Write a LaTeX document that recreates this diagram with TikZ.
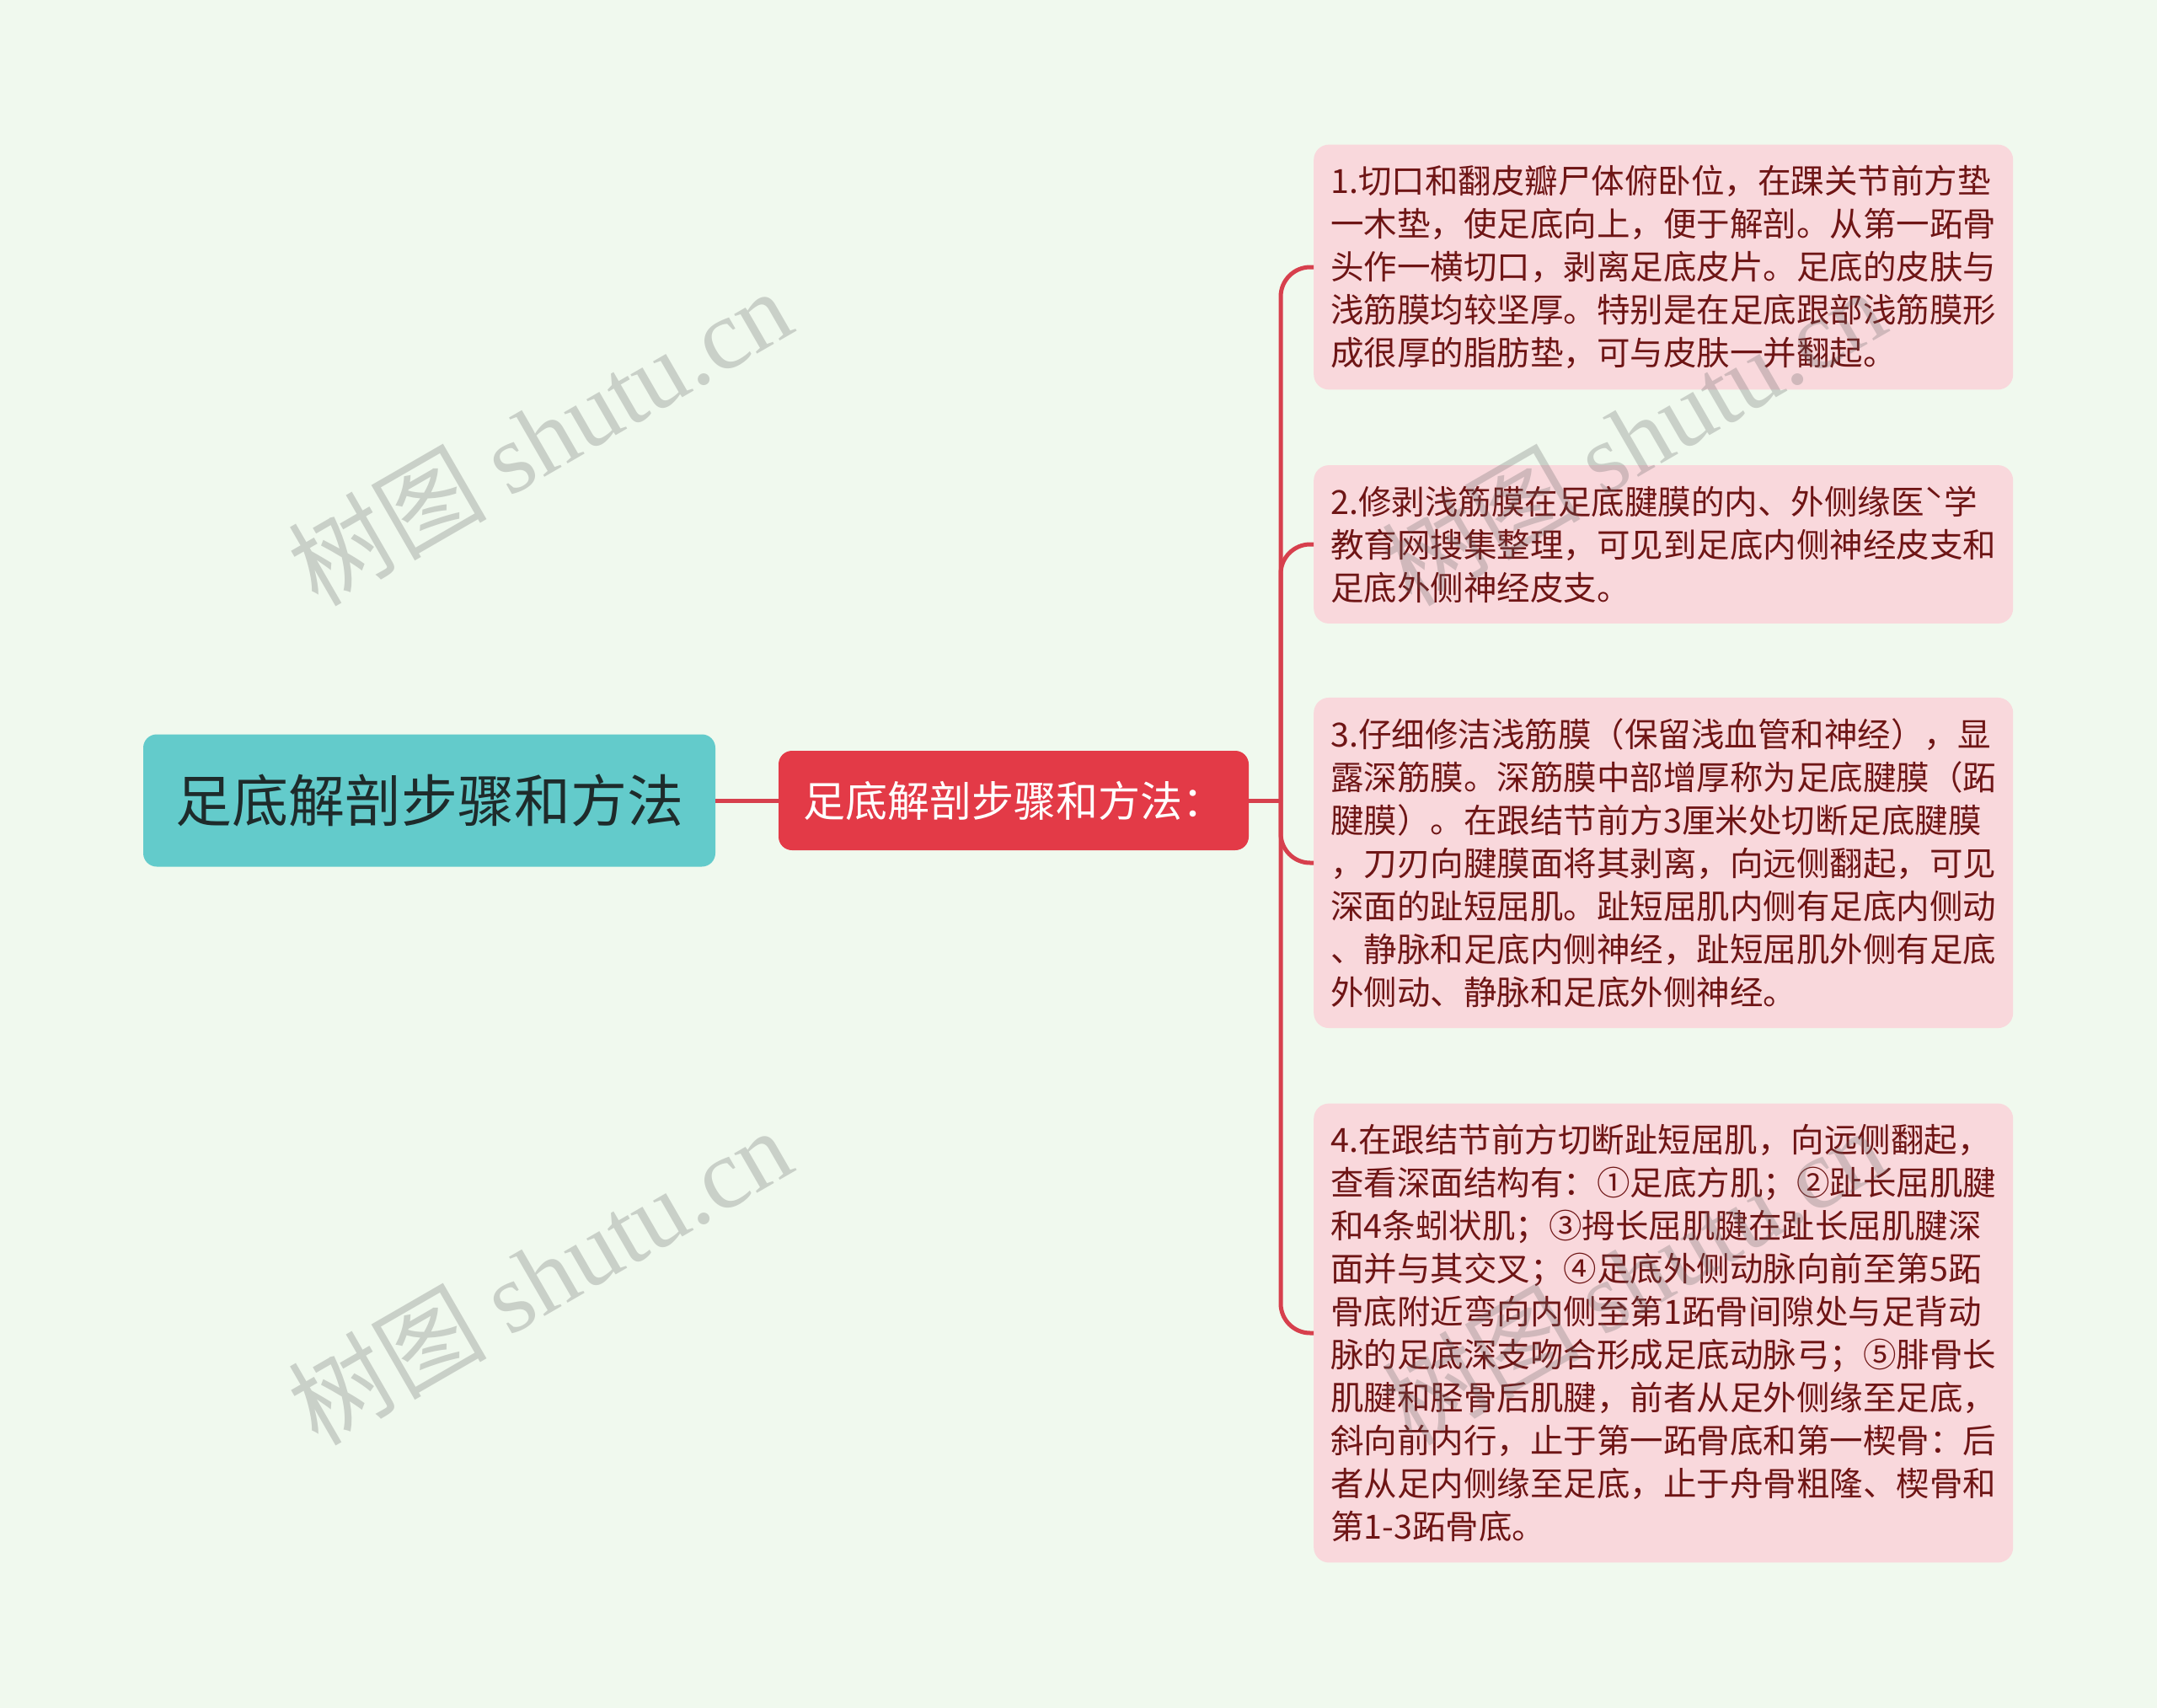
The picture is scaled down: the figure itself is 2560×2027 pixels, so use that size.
\documentclass[tikz,border=0pt]{standalone}
\usepackage{fontspec}
\setmainfont{Noto Sans CJK SC}
\newfontfamily\wmlatin{Liberation Serif}
\definecolor{bgcol}{HTML}{F0F9EE}
\definecolor{rootcol}{HTML}{63CBCB}
\definecolor{roottext}{HTML}{1E2B2B}
\definecolor{midcol}{HTML}{E33A47}
\definecolor{leafcol}{HTML}{F9D8DC}
\definecolor{leaftext}{HTML}{6E1515}
\definecolor{linkcol}{HTML}{D7404D}

\begin{document}
\begin{tikzpicture} [x=1pt, y=-1pt]
\tikzstyle{leaf}=[fill=leafcol, rounded corners=18pt, text=leaftext, text width=790pt, align=left, inner xsep=20pt, inner ysep=24.5pt, anchor=west, font=\fontsize{39.5}{51}\selectfont];
\tikzstyle{link}=[draw=linkcol, line width=5pt];
\tikzstyle{wm}=[text=black!60, text opacity=0.28, rotate=30, font=\fontsize{118}{118}\selectfont];
\fill [bgcol] (0,0) rectangle (2560,2027);
\useasboundingbox (0,0) rectangle (2560,2027);
\node [fill=rootcol, text=roottext, rounded corners=16pt, minimum width=679pt, minimum height=157pt, inner sep=0pt, font=\fontsize{67}{80}\selectfont] (root) at (509.5,950) {足底解剖步骤和方法};
\node [fill=midcol, text=white, rounded corners=16pt, minimum width=558pt, minimum height=118pt, inner sep=0pt, font=\fontsize{50}{60}\selectfont] (mid) at (1203,950) {足底解剖步骤和方法：};
\node [leaf] (step1) at (1559,317) {1.切口和翻皮瓣尸体俯卧位，在踝关节前方垫\\一木垫，使足底向上，便于解剖。从第一跖骨\\头作一横切口，剥离足底皮片。足底的皮肤与\\浅筋膜均较坚厚。特别是在足底跟部浅筋膜形\\成很厚的脂肪垫，可与皮肤一并翻起。};
\node [leaf] (step2) at (1559,646) {2.修剥浅筋膜在足底腱膜的内、外侧缘医ˋ学\\教育网搜集整理，可见到足底内侧神经皮支和\\足底外侧神经皮支。};
\node [leaf] (step3) at (1559,1024) {3.仔细修洁浅筋膜（保留浅血管和神经），显\\露深筋膜。深筋膜中部增厚称为足底腱膜（跖\\腱膜）。在跟结节前方3厘米处切断足底腱膜\\，刀刃向腱膜面将其剥离，向远侧翻起，可见\\深面的趾短屈肌。趾短屈肌内侧有足底内侧动\\、静脉和足底内侧神经，趾短屈肌外侧有足底\\外侧动、静脉和足底外侧神经。};
\node [leaf] (step4) at (1559,1582) {4.在跟结节前方切断趾短屈肌，向远侧翻起，\\查看深面结构有：①足底方肌；②趾长屈肌腱\\和4条蚓状肌；③拇长屈肌腱在趾长屈肌腱深\\面并与其交叉；④足底外侧动脉向前至第5跖\\骨底附近弯向内侧至第1跖骨间隙处与足背动\\脉的足底深支吻合形成足底动脉弓；⑤腓骨长\\肌腱和胫骨后肌腱，前者从足外侧缘至足底，\\斜向前内行，止于第一跖骨底和第一楔骨：后\\者从足内侧缘至足底，止于舟骨粗隆、楔骨和\\第1-3跖骨底。};
\coordinate (trunk) at (1520,950);
\draw [link] (root) -- (mid) % root to main branch
(mid) -- (trunk);
\foreach \s in {step1,step2,step3,step4}
  \draw [link, rounded corners=35pt] (trunk) |- (\s);
% watermarks
\node [wm] (wm1) at (640,518) {树图 {\wmlatin shutu.cn}};
\node [wm] (wm2) at (640,1514) {树图 {\wmlatin shutu.cn}};
\node [wm] (wm3) at (1938,518) {树图 {\wmlatin shutu.cn}};
\node [wm] (wm4) at (1938,1514) {树图 {\wmlatin shutu.cn}};
\end{tikzpicture}
\end{document}
